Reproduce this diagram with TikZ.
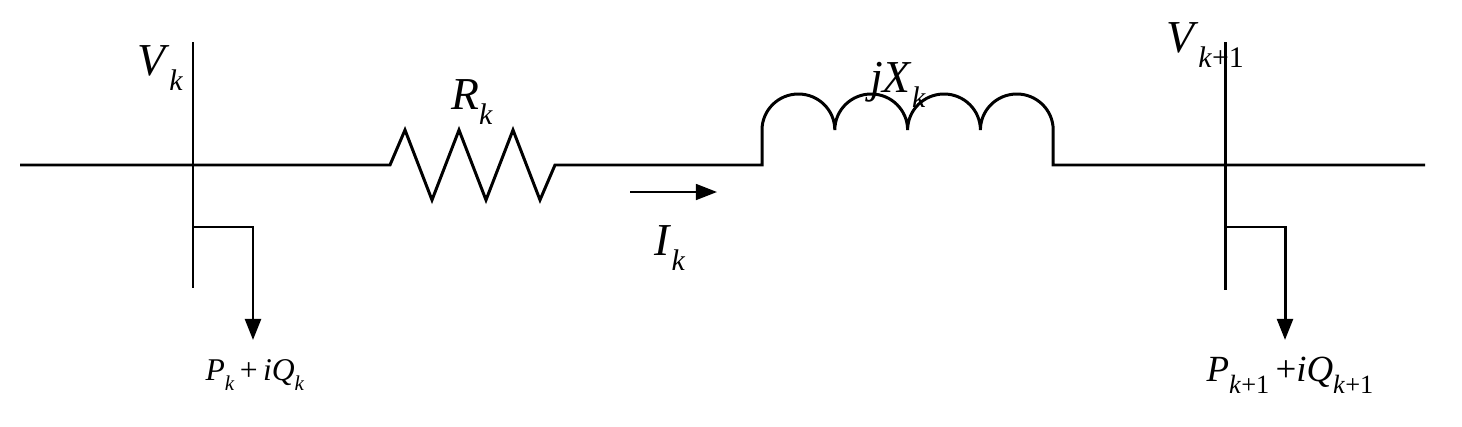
\documentclass[tikz,border=0pt]{standalone}
\usepackage{fontspec}
\setmainfont{Liberation Serif}
\usetikzlibrary{arrows.meta}
\newcommand{\vi}[1]{\textit{#1}}
\def\sbsz{16pt}
\newcommand{\sbk}[1]{\raisebox{-0.7ex}{\fontsize{\sbsz}{\sbsz}\selectfont #1}}
\begin{document}
\begin{tikzpicture}[x=0.02cm,y=-0.02cm,
  wire/.style={line width=1.7pt},
  arr/.style={line width=1.7pt,-{Triangle[length=12pt,width=9pt]}},
  lbl/.style={font=\fontsize{26}{28}\selectfont\def\sbsz{17pt}},
  slbl/.style={font=\fontsize{18}{20}\selectfont\def\sbsz{12pt}},
  blbl/.style={font=\fontsize{21}{23}\selectfont\def\sbsz{15pt}}]
\useasboundingbox (0,0) rectangle (1462,426);
\coordinate (L0) at (20,165);
\coordinate (R0) at (390,165);
\coordinate (R1) at (555,165);
\coordinate (C0) at (762,165);
\coordinate (C1) at (1053,165);
\coordinate (E) at (1425,165);
\draw[wire] (L0) -- (R0) -- (405,130) -- (432,200) -- (459,130) -- (486,200) -- (513,130) -- (540,200) -- (R1) -- (C0)
  -- (762,130) arc[start angle=180,end angle=0,x radius=36.4,y radius=-36]
  arc[start angle=180,end angle=0,x radius=36.4,y radius=-36]
  arc[start angle=180,end angle=0,x radius=36.4,y radius=-36]
  arc[start angle=180,end angle=0,x radius=36.4,y radius=-36] -- (C1) -- (E);
\coordinate (B1t) at (193,42); \coordinate (B1b) at (193,288);
\coordinate (B2t) at (1225,42); \coordinate (B2b) at (1225,290);
\draw[wire] (B1t) -- (B1b);
\draw[wire] (B2t) -- (B2b);
\coordinate (T1) at (193,227); \coordinate (A1) at (253,340);
\coordinate (T2) at (1225,227); \coordinate (A2) at (1285,340);
\draw[arr] (T1) -| (A1);
\draw[arr] (T2) -| (A2);
\coordinate (I0) at (630,192); \coordinate (I1) at (717,192);
\draw[arr,line width=1.3pt] (I0) -- (I1);
\node[lbl] (vk) at (160,68) {\vi{V}\sbk{\vi{k}}};
\node[lbl] (rk) at (472,102) {\vi{R}\sbk{\vi{k}}};
\node[lbl] (xk) at (898,85) {\vi{jX}\sbk{\vi{k}}};
\node[lbl] (vk1) at (1205,45) {\vi{V}\sbk{\vi{k}+1}};
\node[lbl] (ik) at (670,248) {\vi{I}\sbk{\vi{k}}};
\node[slbl] (pk) at (255,375) {\vi{P}\sbk{\vi{k}}\,+\,\vi{iQ}\sbk{\vi{k}}};
\node[blbl] (pk1) at (1290,375) {\vi{P}\sbk{\vi{k}+1}\,+\vi{iQ}\sbk{\vi{k}+1}};
\end{tikzpicture}
\end{document}
